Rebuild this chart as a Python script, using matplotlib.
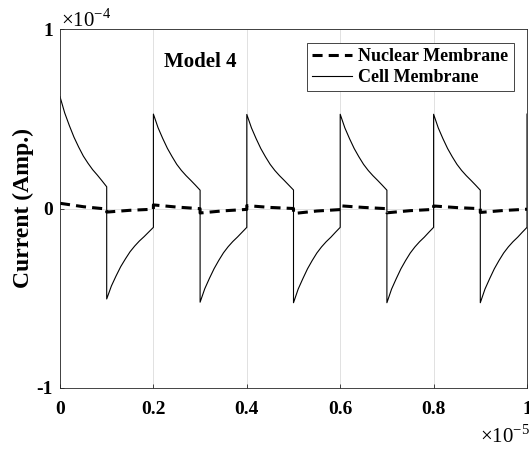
import matplotlib
matplotlib.use("Agg")
import matplotlib.pyplot as plt
import numpy as np

plt.rcParams['font.family'] = ['Liberation Serif', 'DejaVu Serif']
plt.rcParams['mathtext.fontset'] = 'custom'
plt.rcParams['mathtext.rm'] = 'Liberation Serif'

# time in units of 1e-5 s, current in units of 1e-4 A
seg_start = [0.0, 0.1, 0.2, 0.3, 0.4, 0.5, 0.6, 0.7, 0.8, 0.9]
cell_t = [0.00, 0.01, 0.02, 0.03, 0.04, 0.05, 0.06, 0.07, 0.08, 0.09, 0.10]
cell_segments = [
    [0.623, 0.533, 0.462, 0.397, 0.342, 0.292, 0.252, 0.216, 0.186, 0.154, 0.121],
    [-0.504, -0.432, -0.376, -0.324, -0.281, -0.241, -0.209, -0.181, -0.157, -0.131, -0.105],
    [0.526, 0.450, 0.390, 0.335, 0.289, 0.246, 0.212, 0.183, 0.157, 0.130, 0.102],
    [-0.522, -0.447, -0.389, -0.335, -0.289, -0.247, -0.213, -0.184, -0.159, -0.132, -0.105],
    [0.524, 0.449, 0.389, 0.334, 0.288, 0.246, 0.212, 0.183, 0.157, 0.130, 0.103],
    [-0.525, -0.449, -0.391, -0.336, -0.290, -0.248, -0.214, -0.185, -0.160, -0.132, -0.105],
    [0.525, 0.449, 0.389, 0.334, 0.288, 0.246, 0.212, 0.183, 0.157, 0.130, 0.102],
    [-0.525, -0.449, -0.391, -0.336, -0.290, -0.248, -0.214, -0.185, -0.160, -0.132, -0.105],
    [0.525, 0.449, 0.389, 0.334, 0.288, 0.246, 0.212, 0.183, 0.157, 0.130, 0.102],
    [-0.525, -0.449, -0.391, -0.336, -0.290, -0.248, -0.214, -0.185, -0.160, -0.132, -0.105],
]
cell_end = (1.0, 0.526)

nuc_t = [0.00, 0.05, 0.10]
nuc_segments = [
    [0.029, 0.010, -0.003],
    [-0.020, -0.010, -0.004],
    [0.020, 0.008, -0.001],
    [-0.025, -0.013, -0.005],
    [0.016, 0.006, 0.000],
    [-0.028, -0.014, -0.006],
    [0.015, 0.006, -0.001],
    [-0.024, -0.012, -0.005],
    [0.014, 0.005, -0.001],
    [-0.022, -0.011, -0.004],
]

x_ticks = [0, 0.2, 0.4, 0.6, 0.8, 1]
x_ticklabels = ['0', '0.2', '0.4', '0.6', '0.8', '1']
y_ticks = [-1, 0, 1]
y_ticklabels = ['-1', '0', '1']

# stitch half-cycles into one trace each (jumps become vertical steps)
cell_x = np.concatenate([np.add(s, cell_t) for s in seg_start] + [[cell_end[0]]])
cell_y = np.concatenate(cell_segments + [[cell_end[1]]])
nuc_x = np.concatenate([np.add(s, nuc_t) for s in seg_start])
nuc_y = np.concatenate(nuc_segments)

W, H = 529, 450
fig = plt.figure(figsize=(W / 100, H / 100), dpi=100)
ax = fig.add_axes([60 / W, (H - 388) / H, (527 - 60) / W, (388 - 29) / H])

ax.plot(nuc_x, nuc_y, color='black', lw=2.2, ls=(0, (3.3, 2)), label='Nuclear Membrane')
ax.plot(cell_x, cell_y, color='black', lw=0.8, label='Cell Membrane')

ax.set_xlim(0, 1)
ax.set_ylim(-1, 1)
ax.set_xticks(x_ticks)
ax.set_xticklabels(x_ticklabels)
ax.set_yticks(y_ticks)
ax.set_yticklabels(y_ticklabels)
ax.grid(True, color='#dcdcdc', lw=0.6)
ax.set_axisbelow(True)
ax.tick_params(direction='in', length=3, width=0.6, colors='#262626',
               labelcolor='black', labelsize=14)
ax.tick_params(axis='x', pad=9)
ax.tick_params(axis='y', pad=5)
for lbl in ax.get_xticklabels() + ax.get_yticklabels():
    lbl.set_fontweight('bold')
for sp in ax.spines.values():
    sp.set_color('#262626')
    sp.set_linewidth(0.6)

ax.set_ylabel('Current (Amp.)', fontsize=17, fontweight='bold', labelpad=2)

ax.text(0.30, 0.908, 'Model 4', transform=ax.transAxes, ha='center', va='center',
        fontsize=15, fontweight='bold')

leg = ax.legend(loc='upper right', bbox_to_anchor=(0.972, 0.961), borderaxespad=0,
                fancybox=False, framealpha=1, edgecolor='#262626',
                prop={'weight': 'bold', 'size': 13}, handlelength=2.2,
                handletextpad=0.35, borderpad=0.3, labelspacing=0.2)
leg.get_frame().set_linewidth(0.6)

fig.text(61 / W, 1 - 27 / H, r'$\times 10^{-4}$', fontsize=15, ha='left', va='baseline')
fig.text(480 / W, 1 - 443 / H, r'$\times 10^{-5}$', fontsize=15, ha='left', va='baseline')

fig.savefig('out.png', dpi=100)
